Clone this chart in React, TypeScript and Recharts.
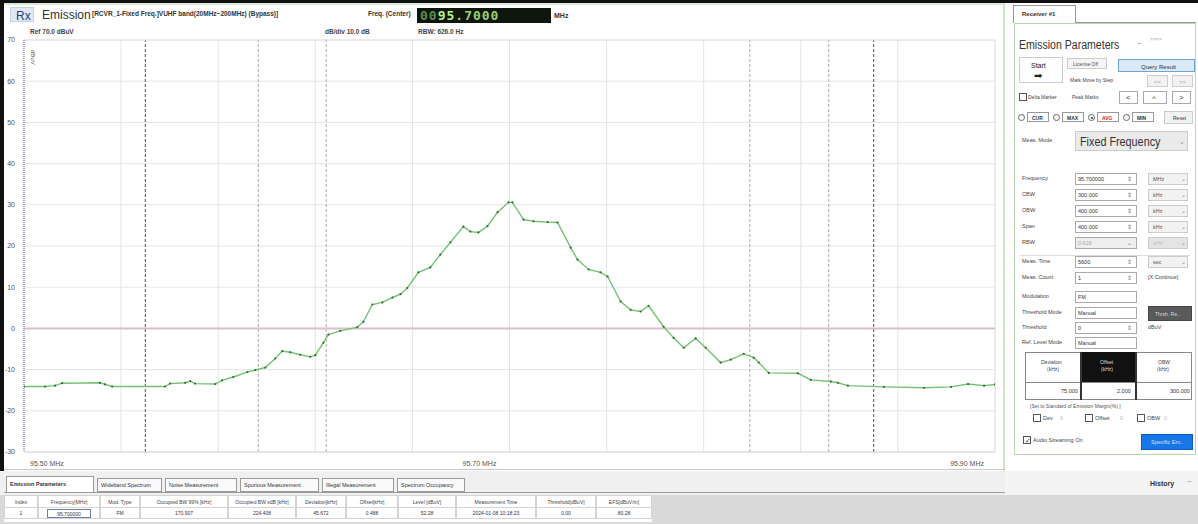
import React from 'react';
import { LineChart, Line, XAxis, YAxis, CartesianGrid, ReferenceLine } from 'recharts';

const FREQS = [95.5, 95.5087, 95.5128, 95.5157, 95.5313, 95.5334, 95.5363, 95.5581, 95.5602, 95.5664, 95.5685, 95.5705, 95.5788, 95.5816, 95.5862, 95.592, 95.5953, 95.5994, 95.6035, 95.6064, 95.6097, 95.6138, 95.6179, 95.62, 95.6233, 95.6254, 95.6303, 95.6373, 95.6398, 95.6435, 95.6476, 95.6518, 95.6551, 95.6579, 95.6625, 95.6674, 95.6715, 95.6757, 95.681, 95.6839, 95.6872, 95.6909, 95.6951, 95.6996, 95.7012, 95.7058, 95.7099, 95.7157, 95.7198, 95.7252, 95.728, 95.7326, 95.7375, 95.7404, 95.7458, 95.7499, 95.754, 95.7573, 95.7635, 95.7676, 95.7718, 95.7767, 95.7808, 95.787, 95.7911, 95.7965, 95.8006, 95.8027, 95.8068, 95.8188, 95.8241, 95.8324, 95.8353, 95.8394, 95.8542, 95.8707, 95.8819, 95.8889, 95.8955, 95.9];
const LEVELS = [-14.1, -14.1, -13.9, -13.3, -13.2, -13.6, -14.1, -14.1, -13.4, -13.2, -12.8, -13.4, -13.5, -12.6, -11.8, -10.6, -10.1, -9.5, -7.3, -5.5, -5.8, -6.4, -6.9, -6.5, -3.5, -1.5, -0.6, 0.3, 1.6, 5.8, 6.3, 7.5, 8.3, 9.8, 13.6, 14.8, 17.9, 20.9, 24.7, 23.5, 23.3, 24.8, 28.2, 30.6, 30.6, 26.4, 26.0, 25.8, 25.7, 19.6, 16.7, 14.3, 13.6, 12.6, 6.5, 4.5, 4.1, 5.5, 0.4, -2.3, -4.7, -2.4, -4.7, -8.3, -7.6, -6.2, -7.1, -8.3, -10.8, -10.9, -12.5, -12.9, -13.2, -13.9, -14.2, -14.4, -14.2, -13.5, -13.9, -13.6];

const Y_TICKS = [-30, -20, -10, 0, 10, 20, 30, 40, 50, 60, 70];
const X_TICKS = [95.5, 95.7, 95.9];
const X_TICK_LABELS = ['95.50 MHz', '95.70 MHz', '95.90 MHz'];
const GRID_FREQS = [95.54, 95.58, 95.62, 95.66, 95.7, 95.74, 95.78, 95.82, 95.86];
const DASH_FREQS = [95.5965, 95.6245, 95.799, 95.8315];
const CBW_FREQS = [95.55, 95.85];

const TABS = ['Emission Parameters', 'Wideband Spectrum', 'Noise Measurement', 'Spurious Measurement', 'Illegal Measurement', 'Spectrum Occupancy'];
const TAB_X = [6, 97, 165, 240, 322, 397, 468];
const COLS = ['Index', 'Frequency[MHz]', 'Mod. Type', 'Occupied BW 99% [kHz]', 'Occupied BW xdB [kHz]', 'Deviation[kHz]', 'Offset[kHz]', 'Level [dBuV]', 'Measurement Time', 'Threshold[dBuV]', 'EFS[dBuV/m]'];
const ROW = ['1', '95.700000', 'FM', '170.907', '224.408', '45.672', '0.488', '52.28', '2024-01-08 10:18:23', '0.00', '80.28'];
const COL_X = [4, 38, 100, 140, 228, 296, 346, 398, 456, 536, 596, 652];

const data = FREQS.map((f, i) => ({ f, level: LEVELS[i] }));

const FONT = '"Liberation Sans", Arial, sans-serif';

function T(props: any) {
  const { x, y, s = 7, c = '#333', w = 'normal', children, style } = props;
  return (
    <div style={{ position: 'absolute', left: x, top: y, fontSize: s, color: c, fontWeight: w, whiteSpace: 'nowrap', lineHeight: 1, ...style }}>
      {children}
    </div>
  );
}

function Box(props: any) {
  const { x, y, w, h, bg = '#fff', b = '1px solid #bbb', children, style } = props;
  return (
    <div style={{ position: 'absolute', left: x, top: y, width: w, height: h, background: bg, border: b, boxSizing: 'border-box', ...style }}>
      {children}
    </div>
  );
}

function XTick(props: any) {
  const { x, y, payload } = props;
  const idx = X_TICKS.indexOf(payload.value);
  const anchor = idx === 0 ? 'start' : idx === 2 ? 'end' : 'middle';
  const dx = idx === 0 ? 6 : idx === 2 ? -2 : -30;
  return (
    <text x={x + dx} y={y + 6} textAnchor={anchor} fontSize={7} fill="#555" fontFamily={FONT}>
      {X_TICK_LABELS[idx]}
    </text>
  );
}

function Field(props: any) {
  const { y, label, value, unit, disabled, spin = true, unitText } = props;
  return (
    <>
      <T x={1022} y={y - 3} s={5.5} c="#444">{label}</T>
      <Box x={1075} y={y - 6} w={62} h={12} bg={disabled ? '#eee' : '#fff'} b="1px solid #aaa">
        <T x={2} y={3} s={5.5} c={disabled ? '#aaa' : '#333'}>{value}</T>
        {spin && <T x={51} y={2} s={6} c="#777">{disabled ? '⌄' : '⇕'}</T>}
      </Box>
      {unit && (
        <Box x={1148} y={y - 6} w={40} h={12} bg={disabled ? '#e4e4e4' : '#f2f2f2'} b="1px solid #ccc">
          <T x={4} y={3} s={5.5} c={disabled ? '#bbb' : '#555'}>{unit}</T>
          <T x={32} y={2} s={6} c="#888">⌄</T>
        </Box>
      )}
      {unitText && <T x={1148} y={y - 3} s={5.5} c="#444">{unitText}</T>}
    </>
  );
}

export default function App() {
  return (
    <div style={{ position: 'absolute', left: 0, top: 0, width: 1198, height: 524, background: '#fff', overflow: 'hidden', fontFamily: FONT }}>
      {/* frame */}
      <div style={{ position: 'absolute', left: 0, top: 0, width: 1198, height: 3, background: '#111' }} />
      <div style={{ position: 'absolute', left: 0, top: 0, width: 4, height: 472, background: '#111' }} />
      <div style={{ position: 'absolute', left: 4, top: 3, width: 1000, height: 2, background: '#d6ecd2' }} />
      <div style={{ position: 'absolute', left: 1003, top: 3, width: 2, height: 468, background: '#cfe6c9' }} />

      {/* header */}
      <Box x={10} y={7} w={24} h={15} bg="#dfe8f3" b="1px solid #c5d3e3">
        <T x={5} y={2} s={12} c="#1e3f8a">Rx</T>
      </Box>
      <T x={42} y={9} s={12} c="#333">Emission</T>
      <T x={92} y={11} s={6.5} c="#333" w="bold">[RCVR_1-Fixed Freq.]VUHF band(20MHz~200MHz) (Bypass)]</T>
      <T x={368} y={11} s={6.5} c="#333" w="bold">Freq. (Center)</T>
      <div style={{ position: 'absolute', left: 417, top: 8, width: 134, height: 15, background: '#0e160e', display: 'flex', alignItems: 'center', paddingLeft: 3, boxSizing: 'border-box' }}>
        <span style={{ fontFamily: '"DejaVu Sans Mono", monospace', fontSize: 13, fontWeight: 'bold', color: '#5d8a4c', letterSpacing: 1 }}>00</span>
        <span style={{ fontFamily: '"DejaVu Sans Mono", monospace', fontSize: 13, fontWeight: 'bold', color: '#b6f08c', letterSpacing: 1 }}>95</span>
        <span style={{ fontFamily: '"DejaVu Sans Mono", monospace', fontSize: 13, fontWeight: 'bold', color: '#9ad06e', letterSpacing: 1 }}>.7000</span>
      </div>
      <T x={554} y={12} s={7} c="#333" w="bold">MHz</T>
      <T x={30} y={29} s={6.5} c="#444" w="bold">Ref 70.0 dBuV</T>
      <T x={325} y={29} s={6.5} c="#444" w="bold">dB/div 10.0 dB</T>
      <T x={418} y={29} s={6.5} c="#444" w="bold">RBW: 626.0 Hz</T>

      {/* chart */}
      <div style={{ position: 'absolute', left: 0, top: 0 }}>
        <LineChart width={1000} height={475} data={data} margin={{ top: 40, right: 5, left: 0, bottom: 0 }}>
          <CartesianGrid vertical={false} stroke="#e6e6e6" />
          <XAxis dataKey="f" type="number" domain={[95.5, 95.9]} ticks={X_TICKS} tick={<XTick />} axisLine={false} tickLine={false} height={23} allowDataOverflow />
          <YAxis type="number" domain={[-30, 70]} ticks={Y_TICKS} width={24} tickLine={false} axisLine={{ stroke: '#8b8fd2', strokeDasharray: '1 1', strokeWidth: 1.5 }} tick={{ fontSize: 7, fill: '#555', fontFamily: FONT }} tickMargin={3} interval={0} />
          {GRID_FREQS.map((f) => (
            <ReferenceLine key={'g' + f} x={f} stroke="#e4e4e4" strokeWidth={1} />
          ))}
          {DASH_FREQS.map((f) => (
            <ReferenceLine key={'d' + f} x={f} stroke="#a9a9a9" strokeDasharray="3 2" strokeWidth={1} />
          ))}
          {CBW_FREQS.map((f) => (
            <ReferenceLine key={'c' + f} x={f} stroke="#8f5f5f" strokeDasharray="3 2" strokeWidth={1.2} />
          ))}
          <ReferenceLine x={95.9} stroke="#d8d8d8" />
          <ReferenceLine y={70} stroke="#e0e0e0" />
          <ReferenceLine y={-30} stroke="#d8d8d8" />
          <ReferenceLine y={0} stroke="#dcc0c9" strokeWidth={2} />
          <Line type="linear" dataKey="level" stroke="#74c274" strokeWidth={1.4} dot={{ r: 1.1, fill: '#2f6e2f', stroke: 'none' }} isAnimationActive={false} />
        </LineChart>
      </div>
      <T x={27} y={50} s={6} c="#555" style={{ transform: 'rotate(90deg)', transformOrigin: 'left top', left: 36 }}>dBuV</T>

      {/* bottom tabs */}
      <div style={{ position: 'absolute', left: 4, top: 469, width: 1194, height: 1, background: '#c9c9c9' }} />
      <div style={{ position: 'absolute', left: 0, top: 471, width: 1198, height: 53, background: '#f0f0f0' }} />
      {TABS.map((t, i) => (
        <Box key={t} x={TAB_X[i]} y={i === 0 ? 476 : 478} w={TAB_X[i + 1] - TAB_X[i] - 3} h={i === 0 ? 17 : 14} bg={i === 0 ? '#fff' : '#fafafa'} b="1px solid #9a9a9a">
          <T x={3} y={i === 0 ? 5 : 4} s={5.5} c="#333" w={i === 0 ? 'bold' : 'normal'}>{t}</T>
        </Box>
      ))}
      <div style={{ position: 'absolute', left: 4, top: 492, width: 1194, height: 1, background: '#9a9a9a' }} />
      <div style={{ position: 'absolute', left: 0, top: 495, width: 1198, height: 29, background: '#d9d9d9' }} />
      <div style={{ position: 'absolute', left: 4, top: 495, width: COL_X[COL_X.length - 1] - 4, height: 27, background: '#fff' }} />
      {COLS.map((c, i) => (
        <React.Fragment key={c}>
          <Box x={COL_X[i]} y={495} w={COL_X[i + 1] - COL_X[i]} h={13} bg="#fff" b="1px solid #d4d4d4">
            <T x={0} y={4} s={5} c="#444" style={{ width: '100%', textAlign: 'center' }}>{c}</T>
          </Box>
          <Box x={COL_X[i]} y={507} w={COL_X[i + 1] - COL_X[i]} h={12} bg="#fff" b="1px solid #d4d4d4">
            {i === 1 ? (
              <Box x={8} y={1} w={44} h={9} bg="#fff" b="1px solid #6c7fb0">
                <T x={0} y={2} s={5} c="#334" style={{ width: '100%', textAlign: 'center' }}>{ROW[i]}</T>
              </Box>
            ) : (
              <T x={0} y={3} s={5} c="#334" style={{ width: '100%', textAlign: 'center' }}>{ROW[i]}</T>
            )}
          </Box>
        </React.Fragment>
      ))}
      <div style={{ position: 'absolute', left: 1005, top: 471, width: 193, height: 24, background: '#f4f4f4' }} />
      <T x={1150} y={480} s={7} c="#333" w="bold">History</T>
      <T x={1187} y={478} s={8} c="#888">~</T>

      {/* right panel */}
      <div style={{ position: 'absolute', left: 1005, top: 3, width: 193, height: 468, background: '#fff' }} />
      <Box x={1013} y={5} w={63} h={18} bg="#fff" b="1px solid #999" style={{ borderBottom: 'none' }}>
        <T x={8} y={5} s={6} c="#333" w="bold">Receiver #1</T>
      </Box>
      <div style={{ position: 'absolute', left: 1076, top: 22, width: 120, height: 1, background: '#999' }} />
      <Box x={1014} y={23} w={182} h={432} bg="#fff" b="1px solid #b8d8b0" />
      <T x={1019} y={39} s={12} c="#333" style={{ transform: 'scaleX(0.88)', transformOrigin: 'left' }}>Emission Parameters</T>
      <T x={1137} y={40} s={8} c="#888">~</T>
      <T x={1150} y={37} s={5} c="#888">&gt;&gt;&gt;&gt;</T>

      <Box x={1019} y={57} w={44} h={26} bg="#fff" b="1px solid #ccc">
        <T x={11} y={4} s={7} c="#222">Start</T>
        <T x={14} y={13} s={10} c="#222">➡</T>
      </Box>
      <Box x={1067} y={58} w={40} h={11} bg="#f4f4f4" b="1px solid #ccc">
        <T x={5} y={3} s={5} c="#555">License Off</T>
      </Box>
      <Box x={1118} y={59} w={77} h={13} bg="#dce9f6" b="1px solid #6fa4d8">
        <T x={22} y={3.5} s={6} c="#333">Query Result</T>
      </Box>
      <T x={1070} y={78} s={5} c="#444">Mark Move by Step</T>
      <Box x={1147} y={75} w={21} h={12} bg="#f2f2f2" b="1px solid #ccc"><T x={6} y={3} s={6} c="#999">&lt;&lt;</T></Box>
      <Box x={1172} y={75} w={21} h={12} bg="#f2f2f2" b="1px solid #ccc"><T x={6} y={3} s={6} c="#999">&gt;&gt;</T></Box>

      <Box x={1019} y={93} w={8} h={8} bg="#fff" b="1px solid #555" />
      <T x={1028} y={95} s={5} c="#444">Delta Marker</T>
      <T x={1072} y={95} s={5} c="#444">Peak Marks</T>
      <Box x={1119} y={91} w={19} h={13} bg="#fff" b="1px solid #aaa"><T x={6} y={2} s={8} c="#333">&lt;</T></Box>
      <Box x={1143} y={91} w={24} h={13} bg="#fff" b="1px solid #aaa"><T x={8} y={3} s={8} c="#333">^</T></Box>
      <Box x={1172} y={91} w={19} h={13} bg="#fff" b="1px solid #aaa"><T x={6} y={2} s={8} c="#333">&gt;</T></Box>

      {['CUR', 'MAX', 'AVG', 'MIN'].map((t, i) => (
        <React.Fragment key={t}>
          <div style={{ position: 'absolute', left: 1018 + i * 35, top: 114, width: 7, height: 7, borderRadius: 4, border: '1px solid #666', background: '#fff', boxSizing: 'border-box' }}>
            {i === 2 && <div style={{ position: 'absolute', left: 1.5, top: 1.5, width: 2, height: 2, borderRadius: 1, background: '#333' }} />}
          </div>
          <Box x={1027 + i * 35} y={112} w={22} h={10} bg="#fff" b="1px solid #999">
            <T x={4} y={2.5} s={5} c={i === 2 ? '#d22' : '#333'} w="bold">{t}</T>
          </Box>
        </React.Fragment>
      ))}
      <Box x={1164} y={111} w={29} h={13} bg="#f2f2f2" b="1px solid #ccc"><T x={8} y={4} s={5} c="#333">Reset</T></Box>

      <T x={1022} y={138} s={5.5} c="#444">Meas. Mode</T>
      <Box x={1075} y={131} w={113} h={20} bg="#eaeaea" b="1px solid #ccc">
        <T x={4} y={4} s={12} c="#333" style={{ transform: 'scaleX(0.9)', transformOrigin: 'left' }}>Fixed Frequency</T>
        <T x={103} y={6} s={7} c="#888">⌄</T>
      </Box>

      <Field y={179} label="Frequency" value="95.700000" unit="MHz" />
      <Field y={195} label="CBW" value="300.000" unit="kHz" />
      <Field y={211} label="OBW" value="400.000" unit="kHz" />
      <Field y={227} label="Span" value="400.000" unit="kHz" />
      <Field y={243} label="RBW" value="0.626" unit="kHz" disabled />
      <div style={{ position: 'absolute', left: 1020, top: 255, width: 170, height: 1, background: '#ddd' }} />
      <Field y={262} label="Meas. Time" value="5600" unit="sec" />
      <Field y={278} label="Meas. Count" value="1" unitText="[X:Continue]" />
      <Field y={297} label="Modulation" value="FM" spin={false} />
      <Field y={313} label="Threshold Mode" value="Manual" spin={false} />
      <Box x={1148} y={306} w={44} h={15} bg="#5a5a5a" b="1px solid #444"><T x={6} y={5} s={5} c="#ddd">Thrsh. Re..</T></Box>
      <Field y={328} label="Threshold" value="0" unitText="dBuV" />
      <Field y={343} label="Ref. Level Mode" value="Manual" spin={false} />

      <Box x={1025} y={352} w={167} h={48} bg="#fff" b="1px solid #888" />
      <Box x={1080} y={352} w={56} h={31} bg="#111" b="1px solid #111" />
      <div style={{ position: 'absolute', left: 1025, top: 382, width: 167, height: 1, background: '#888' }} />
      <div style={{ position: 'absolute', left: 1080, top: 352, width: 2, height: 48, background: '#333' }} />
      <div style={{ position: 'absolute', left: 1135, top: 352, width: 2, height: 48, background: '#333' }} />
      <T x={1041} y={360} s={5} c="#444">Deviation</T>
      <T x={1047} y={367} s={5} c="#444">(kHz)</T>
      <T x={1100} y={360} s={5} c="#ddd">Offset</T>
      <T x={1101} y={367} s={5} c="#ddd">(kHz)</T>
      <T x={1158} y={360} s={5} c="#444">OBW</T>
      <T x={1157} y={367} s={5} c="#444">(kHz)</T>
      <T x={1061} y={389} s={5.5} c="#333">75.000</T>
      <T x={1117} y={389} s={5.5} c="#333">2.000</T>
      <T x={1170} y={389} s={5.5} c="#333">300.000</T>
      <T x={1030} y={404} s={5} c="#555">[Set to Standard of Emission Margin(%) ]</T>
      {['Dev', 'Offset', 'OBW'].map((t, i) => (
        <React.Fragment key={t}>
          <Box x={1033 + i * 52} y={414} w={8} h={8} bg="#fff" b="1px solid #555" />
          <T x={1043 + i * 52} y={416} s={5.5} c="#444">{t}</T>
          <T x={1060 + i * 52 + (i === 1 ? 8 : 0)} y={416} s={5.5} c="#bbb">0</T>
        </React.Fragment>
      ))}
      <Box x={1023} y={436} w={8} h={8} bg="#fff" b="1px solid #555">
        <T x={0.5} y={0} s={7} c="#333">✓</T>
      </Box>
      <T x={1033} y={438} s={5.5} c="#444">Audio Streaming On</T>
      <Box x={1141} y={434} w={52} h={16} bg="#1976e8" b="1px solid #0d5fc6"><T x={9} y={5} s={5.5} c="#cfe3ff">Specific Em..</T></Box>
    </div>
  );
}
